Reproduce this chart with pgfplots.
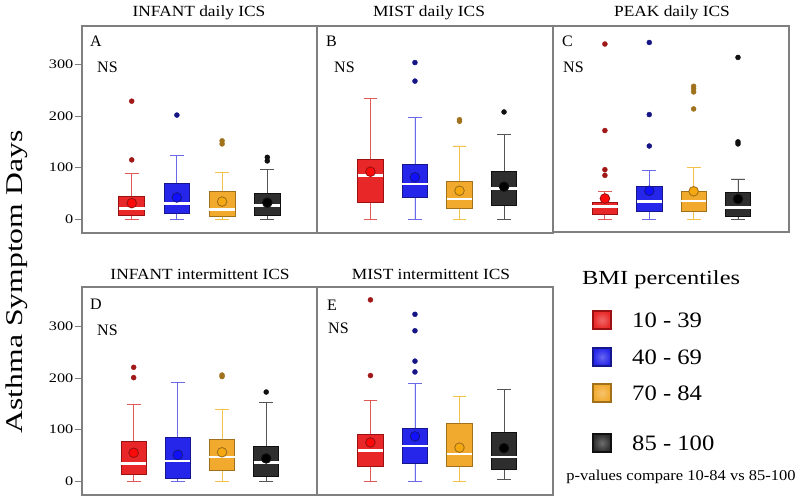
\documentclass[border=0pt]{standalone}
\usepackage{pgfplots}
\pgfplotsset{compat=1.18}
\usepgfplotslibrary{statistics}
\usepackage{fontspec}
\setmainfont{Liberation Serif}
\usepackage{graphicx}

\definecolor{framegray}{HTML}{7F7F7F}
\definecolor{rfill}{HTML}{E82828}\definecolor{rdark}{HTML}{9B1010}\definecolor{rwh}{HTML}{E05A5A}\definecolor{rmean}{HTML}{FF0A0A}\definecolor{rout}{HTML}{A01818}
\definecolor{bfill}{HTML}{2626EA}\definecolor{bdark}{HTML}{15158C}\definecolor{bwh}{HTML}{6A6AE8}\definecolor{bmean}{HTML}{1010FF}\definecolor{bout}{HTML}{151585}
\definecolor{ofill}{HTML}{F2AA2E}\definecolor{odark}{HTML}{A0701A}\definecolor{owh}{HTML}{F2C24A}\definecolor{omean}{HTML}{F5A810}\definecolor{oout}{HTML}{A0721E}
\definecolor{kfill}{HTML}{2E2E2E}\definecolor{kdark}{HTML}{101010}\definecolor{kwh}{HTML}{555555}\definecolor{kmean}{HTML}{000000}\definecolor{kout}{HTML}{101010}

\newcommand{\sx}[2]{\scalebox{#1}[1]{#2}}

\pgfplotsset{
  panel/.style={scale only axis, ymin=-27, ymax=375, xtick=\empty, ytick=\empty,
    axis line style={draw=framegray, line width=1.6bp}},
  yt/.style={ytick={0,100,200,300}, ytick pos=left, tick align=outside,
    major tick length=7bp, tick style={draw=framegray, line width=1bp},
    yticklabels={\sx{1.25}{0},\sx{1.25}{100},\sx{1.25}{200},\sx{1.25}{300}},
    yticklabel style={font=\fontsize{13bp}{13bp}\selectfont, inner sep=1.5bp}},
  bxs/.style n args={3}{draw=#2, fill=#1, line width=0.8bp,
    boxplot/draw direction=y,
    boxplot/box extend=0.57, boxplot/whisker extend=0.31,
    boxplot/every whisker/.style={draw=#3, line width=0.9bp},
    boxplot/every median/.style={draw=white, line width=2.6bp}},
  cR/.style={bxs={rfill}{rdark}{rwh}},
  cB/.style={bxs={bfill}{bdark}{bwh}},
  cO/.style={bxs={ofill}{odark}{owh}},
  cK/.style={bxs={kfill}{kdark}{kwh}},
  mns/.style 2 args={only marks, mark=*, mark size=4.8bp, mark options={fill=#1, draw=#2, line width=0.9bp}},
  mR/.style={mns={rmean}{rdark}}, mB/.style={mns={bmean}{bdark}},
  mO/.style={mns={omean}{odark}}, mK/.style={mns={kmean}{kdark}},
  ous/.style={only marks, mark=*, mark size=2.5bp, mark options={fill=#1, draw=#1}},
  oR/.style={ous=rout}, oB/.style={ous=bout}, oO/.style={ous=oout}, oK/.style={ous=kout},
}

% style, pos, lw, lq, med, uq, uw, mean
\newcommand{\BP}[8]{%
  \addplot[c#1, boxplot prepared={draw position=#2, lower whisker=#3, lower quartile=#4, median=#5, upper quartile=#6, upper whisker=#7}] coordinates {};
  \addplot[m#1] coordinates {(#2,#8)};}

\begin{document}
\begin{tikzpicture}
\path[use as bounding box] (0,0) rectangle (800bp,499bp);

% ---------- A ----------
\begin{axis}[panel, yt, at={(82bp,266bp)}, anchor=south west, width=235bp, height=207bp, xmin=-0.1, xmax=5.1]
\BP{R}{1}{0}{8}{20}{44}{89}{31}
\addplot[oR] coordinates {(1,115) (1,229)};
\BP{B}{2}{0}{12}{30}{70}{123}{42}
\addplot[oB] coordinates {(2,202)};
\BP{O}{3}{0}{5}{19}{54}{90}{34}
\addplot[oO] coordinates {(3,146) (3,152)};
\BP{K}{4}{0}{8}{26}{49}{96}{32}
\addplot[oK] coordinates {(4,113) (4,120)};
\end{axis}

% ---------- B ----------
\begin{axis}[panel, at={(317bp,266bp)}, anchor=south west, width=236bp, height=207bp, xmin=-0.2, xmax=5.1]
\BP{R}{1}{0}{33}{85}{116}{235}{92}
\BP{B}{2}{0}{42}{68}{106}{198}{81}
\addplot[oB] coordinates {(2,268) (2,304)};
\BP{O}{3}{0}{21}{39}{73}{142}{55}
\addplot[oO] coordinates {(3,190) (3,193)};
\BP{K}{4}{0}{26}{59}{92}{164}{63}
\addplot[oK] coordinates {(4,208)};
\end{axis}

% ---------- C ----------
\begin{axis}[panel, at={(553bp,267bp)}, anchor=south west, width=236bp, height=206bp, xmin=-0.17, xmax=5.15, ymin=-25, ymax=375]
\BP{R}{1}{0}{10}{24}{32}{54}{40}
\addplot[oR] coordinates {(1,85) (1,96) (1,172) (1,340)};
\BP{B}{2}{0}{15}{34}{63}{94}{55}
\addplot[oB] coordinates {(2,142) (2,203) (2,343)};
\BP{O}{3}{0}{15}{35}{53}{100}{54}
\addplot[oO] coordinates {(3,214) (3,247) (3,253) (3,258)};
\BP{K}{4}{0}{6}{23}{51}{78}{39}
\addplot[oK] coordinates {(4,146) (4,150) (4,314)};
\end{axis}

% ---------- D ----------
\begin{axis}[panel, yt, at={(82bp,4bp)}, anchor=south west, width=235bp, height=208bp, xmin=-0.17, xmax=5.15, ymax=377]
\BP{R}{1}{0}{13}{34}{77}{149}{55}
\addplot[oR] coordinates {(1,201) (1,221)};
\BP{B}{2}{0}{6}{39}{84}{191}{51}
\BP{O}{3}{0}{21}{47}{81}{140}{56}
\addplot[oO] coordinates {(3,203) (3,206)};
\BP{K}{4}{0}{9}{36}{68}{153}{44}
\addplot[oK] coordinates {(4,173)};
\end{axis}

% ---------- E ----------
\begin{axis}[panel, at={(317bp,4bp)}, anchor=south west, width=236bp, height=208bp, xmin=-0.2, xmax=5.1, ymax=377]
\BP{R}{1}{0}{29}{60}{91}{156}{75}
\addplot[oR] coordinates {(1,205) (1,352)};
\BP{B}{2}{0}{34}{68}{103}{190}{87}
\addplot[oB] coordinates {(2,212) (2,233) (2,292) (2,324)};
\BP{O}{3}{0}{29}{53}{113}{164}{65}
\BP{K}{4}{4}{23}{47}{95}{178}{64}
\end{axis}

\begin{scope}[x=1bp,y=1bp]
% ---------- titles ----------
\begin{scope}[every node/.style={inner sep=0pt, font=\fontsize{15.5bp}{16bp}\selectfont}]
\node[anchor=base] at (199,482) {\sx{1.12}{INFANT daily ICS}};
\node[anchor=base] at (429,482) {\sx{1.12}{MIST daily ICS}};
\node[anchor=base] at (672,482) {\sx{1.12}{PEAK daily ICS}};
\node[anchor=base] at (200,220) {\sx{1.12}{INFANT intermittent ICS}};
\node[anchor=base] at (431,220) {\sx{1.12}{MIST intermittent ICS}};
\end{scope}

% ---------- panel letters ----------
\begin{scope}[every node/.style={inner sep=0pt, anchor=base west, font=\fontsize{16bp}{16bp}\selectfont}]
\node at (90,452) {A}; \node at (97,426) {NS};
\node at (326,452) {B}; \node at (334,426) {NS};
\node at (562,452) {C}; \node at (563,426) {NS};
\node at (90,190) {D}; \node at (97,164) {NS};
\node at (327,189) {E}; \node at (328,166) {NS};
\end{scope}

% ---------- y label ----------
\node[rotate=90, inner sep=0pt, font=\fontsize{24bp}{24bp}\selectfont] at (17,217) {\sx{1.32}{Asthma Symptom Days}};

% ---------- legend ----------
\node[anchor=west, inner sep=0pt, font=\fontsize{20bp}{20bp}\selectfont] at (582,219) {\sx{1.22}{BMI percentiles}};
\begin{scope}[every node/.style={anchor=west, inner sep=0pt, font=\fontsize{22bp}{22bp}\selectfont}]
\draw[draw=rdark, line width=1.4bp, inner color=rfill!70!white, outer color=rfill] (593,170) rectangle (611,188);
\node at (632,179) {\sx{1.12}{10 - 39}};
\draw[draw=bdark, line width=1.4bp, inner color=bfill!70!white, outer color=bfill] (593,133) rectangle (611,151);
\node at (632,142) {\sx{1.12}{40 - 69}};
\draw[draw=odark, line width=1.4bp, inner color=ofill!70!white, outer color=ofill] (593,97) rectangle (611,115);
\node at (632,106) {\sx{1.12}{70 - 84}};
\draw[draw=kdark, line width=1.4bp, inner color=kfill!70!white, outer color=kfill] (593,47) rectangle (611,65);
\node at (632,56) {\sx{1.12}{85 - 100}};
\end{scope}
\node[inner sep=0pt, font=\fontsize{15bp}{15bp}\selectfont] at (681,22) {\sx{1.1}{p-values compare 10-84 vs 85-100}};
\end{scope}
\end{tikzpicture}
\end{document}
